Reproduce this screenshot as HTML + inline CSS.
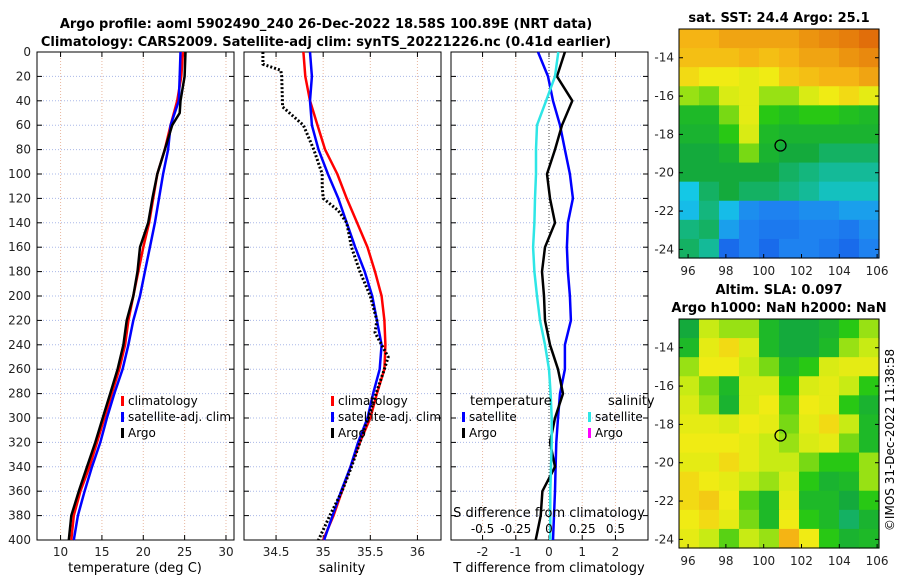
<!DOCTYPE html>
<html><head><meta charset="utf-8">
<style>
body{margin:0;background:#fff;}
svg{display:block;font-family:"DejaVu Sans","Liberation Sans",sans-serif;}
</style></head>
<body>
<svg id="fig" width="900" height="580" viewBox="0 0 900 580" xmlns="http://www.w3.org/2000/svg">
<rect width="900" height="580" fill="#fff"/>
<text x="326" y="28" text-anchor="middle" font-size="13" font-weight="bold">Argo profile: aoml 5902490_240 26-Dec-2022 18.58S 100.89E (NRT data)</text>
<text x="326" y="46" text-anchor="middle" font-size="13" font-weight="bold">Climatology: CARS2009. Satellite-adj clim: synTS_20221226.nc (0.41d earlier)</text>
<g id="g"></g>
<text x="779" y="22" text-anchor="middle" font-size="13" font-weight="bold">sat. SST: 24.4 Argo: 25.1</text>
<text x="779" y="294" text-anchor="middle" font-size="13" font-weight="bold">Altim. SLA: 0.097</text>
<text x="779" y="312" text-anchor="middle" font-size="13" font-weight="bold">Argo h1000: NaN h2000: NaN</text>
<text transform="translate(894,440) rotate(-90)" text-anchor="middle" font-size="12">©IMOS 31-Dec-2022 11:38:58</text>
</svg>
<script>
const depths=[0,20,40,60,80,100,120,140,160,180,200,220,240,260,280,300,320,340,360,380,400];
const depthTicks=[0,20,40,60,80,100,120,140,160,180,200,220,240,260,280,300,320,340,360,380,400];
const tempClim=[24.8,24.6,24.1,23.3,22.6,21.7,21.2,20.7,20.0,19.4,18.8,18.2,17.8,17.1,16.2,15.3,14.4,13.5,12.4,11.6,11.3];
const tempSat=[24.5,24.4,24.3,23.3,23.0,22.4,21.9,21.4,20.8,20.2,19.6,18.8,18.2,17.5,16.5,15.6,14.8,13.8,12.9,12.1,11.6];
const argoTDepth=[0,20,40,50,60,80,100,120,140,160,180,200,220,240,260,280,300,320,340,360,380,400];
const tempArgo=[25.1,25.0,24.5,24.4,23.5,22.6,21.7,21.1,20.6,19.6,19.3,18.8,18.0,17.6,16.9,16.0,15.1,14.2,13.2,12.2,11.3,11.0];
const salClim=[34.79,34.81,34.86,34.94,35.02,35.15,35.25,35.36,35.47,35.55,35.62,35.65,35.66,35.65,35.57,35.5,35.39,35.29,35.2,35.11,35.0];
const salSat=[34.86,34.88,34.86,34.88,34.95,35.05,35.16,35.25,35.34,35.44,35.52,35.57,35.62,35.6,35.53,35.47,35.37,35.29,35.19,35.1,35.01];
const argoSDepth=[0,10,15,20,45,60,80,100,110,120,130,140,160,180,200,220,230,250,260,280,300,320,340,360,380,400];
const salArgo=[34.36,34.36,34.55,34.56,34.57,34.79,34.9,34.99,34.99,35.0,35.16,35.25,35.3,35.39,35.5,35.57,35.55,35.69,35.65,35.56,35.48,35.39,35.3,35.2,35.07,34.95];
const tDiffSat=[-0.33,-0.03,0.12,0.33,0.48,0.63,0.72,0.57,0.54,0.57,0.63,0.66,0.48,0.48,0.33,0.27,0.22,0.2,0.18,0.15,0.12];
const tDiffArgo=[0.48,0.24,0.7,0.39,0.18,-0.06,0.03,0.18,-0.12,-0.21,-0.15,-0.12,0.03,0.27,0.42,0.18,0.03,0.18,-0.2,-0.25,-0.4];
const sDiffSat=[0.07,0.045,-0.022,-0.09,-0.098,-0.098,-0.105,-0.11,-0.12,-0.11,-0.09,-0.068,-0.03,0,0.012,0.02,0.02,0.015,0.01,0.01,0.01];
const tTicks=[10,15,20,25,30];
const sTicks=[34.5,35,35.5,36];
const dTicks=[-2,-1,0,1,2];
const sdTicks=[-0.5,-0.25,0,0.25,0.5];
const sstGrid=[
[.82,.82,.85,.85,.85,.85,.88,.9,.92,.95],
[.8,.8,.8,.82,.8,.82,.85,.85,.88,.9],
[.75,.72,.72,.7,.72,.78,.8,.82,.82,.85],
[.62,.6,.68,.7,.62,.62,.68,.72,.75,.7],
[.5,.5,.6,.7,.55,.52,.55,.55,.52,.5],
[.48,.48,.55,.68,.5,.48,.48,.48,.48,.48],
[.45,.45,.48,.6,.48,.45,.45,.42,.42,.42],
[.45,.45,.45,.45,.45,.42,.4,.38,.38,.38],
[.32,.42,.45,.42,.42,.4,.38,.35,.35,.35],
[.3,.4,.3,.22,.2,.2,.22,.22,.25,.25],
[.4,.42,.25,.2,.18,.18,.2,.2,.18,.22],
[.42,.38,.15,.2,.15,.2,.2,.18,.15,.2]];
const slaGrid=[
[.45,.65,.62,.62,.5,.45,.45,.48,.55,.62],
[.5,.7,.75,.68,.5,.45,.45,.5,.62,.65],
[.62,.72,.72,.65,.6,.5,.55,.68,.7,.7],
[.65,.6,.5,.68,.68,.55,.68,.7,.65,.55],
[.68,.62,.48,.68,.72,.58,.72,.7,.55,.48],
[.7,.7,.68,.72,.7,.6,.7,.75,.65,.5],
[.72,.72,.72,.7,.65,.62,.68,.7,.6,.5],
[.7,.7,.75,.7,.65,.65,.6,.55,.55,.62],
[.75,.72,.7,.65,.62,.68,.55,.48,.5,.62],
[.75,.78,.72,.58,.5,.7,.5,.5,.45,.55],
[.72,.75,.7,.6,.5,.72,.55,.5,.42,.48],
[.7,.65,.58,.65,.62,.82,.72,.55,.48,.5]];
const lonTicks=[96,98,100,102,104,106];
const latTicks=[-14,-16,-18,-20,-22,-24];
const argoPos=[100.89,-18.58];

const NS="http://www.w3.org/2000/svg";
const G=document.getElementById('g');
function el(tag,attrs,parent,txt){const e=document.createElementNS(NS,tag);for(const k in attrs)e.setAttribute(k,attrs[k]);if(txt!==undefined)e.textContent=txt;(parent||G).appendChild(e);return e;}
const top0=52,bot=540;
const yD=d=>top0+(bot-top0)*d/400;

function panel(name,x0,x1,xmin,xmax,ticks,yLabels,grid){
  const g=el('g',{});
  
  
  const xs=v=>x0+(x1-x0)*(v-xmin)/(xmax-xmin);
  if(grid){
    ticks.forEach(t=>{const l=el('line',{x1:xs(t),x2:xs(t),y1:top0,y2:bot,stroke:'#e8b8a0','stroke-dasharray':'1,2','stroke-width':1},g);});
    depthTicks.forEach(d=>{const l=el('line',{x1:x0,x2:x1,y1:yD(d),y2:yD(d),stroke:'#aab8e8','stroke-dasharray':'1,2','stroke-width':1},g);});
  }
  depthTicks.forEach(d=>{
    el('line',{x1:x0,x2:x0+5,y1:yD(d),y2:yD(d),stroke:'#000'},g);
    el('line',{x1:x1-5,x2:x1,y1:yD(d),y2:yD(d),stroke:'#000'},g);
    if(yLabels){const t=el('text',{x:x0-6,y:yD(d)+4,'text-anchor':'end','font-size':12,fill:'#222'},g,String(d));}
  });
  ticks.forEach(t=>{
    el('line',{x1:xs(t),x2:xs(t),y1:bot,y2:bot-5,stroke:'#000'},g);
    el('line',{x1:xs(t),x2:xs(t),y1:top0,y2:top0+5,stroke:'#000'},g);
    const tx=el('text',{x:xs(t),y:bot+16,'text-anchor':'middle','font-size':12,fill:'#222'},g,String(t));
    
  });
  el('rect',{x:x0,y:top0,width:x1-x0,height:bot-top0,fill:'none',stroke:'#000','stroke-width':1},g);
  return {g,xs};
}
function line(p,vals,ds,color,name,dash,w){
  const pts=vals.map((v,i)=>p.xs(v).toFixed(1)+','+yD(ds[i]).toFixed(1)).join(' ');
  const a={points:pts,fill:'none',stroke:color,'stroke-width':w||2.5,'stroke-linejoin':'round'};
  if(dash)a['stroke-dasharray']=dash;
  const l=el('polyline',a,p.g);
  
  
}
function legend(g,x,y,color,text,name){
  el('rect',{x:x,y:y-9,width:3,height:10,fill:color},g);
  const t=el('text',{x:x+7,y:y,'font-size':12,fill:'#000'},g,text);
  
  
}
// Panel 1
const p1=panel('temperature-panel',37,234,7.15,30.97,tTicks,true,true);
line(p1,tempClim,depths,'#f00','temp-climatology-line');
line(p1,tempSat,depths,'#00f','temp-satellite-line');
line(p1,tempArgo,argoTDepth,'#000','temp-argo-line');
legend(p1.g,121,405,'#f00','climatology','legend-climatology');
legend(p1.g,121,421,'#00f','satellite-adj. clim','legend-satellite');
legend(p1.g,121,437,'#000','Argo','legend-argo');
let t=el('text',{x:135,y:572,'text-anchor':'middle','font-size':13},p1.g,'temperature (deg C)');

// Panel 2
const p2=panel('salinity-panel',244,441,34.16,36.25,sTicks,false,true);
line(p2,salClim,depths,'#f00','sal-climatology-line');
line(p2,salSat,depths,'#00f','sal-satellite-line');
line(p2,salArgo,argoSDepth,'#000','sal-argo-line','2,2',3);
legend(p2.g,331,405,'#f00','climatology','legend-climatology');
legend(p2.g,331,421,'#00f','satellite-adj. clim','legend-satellite');
legend(p2.g,331,437,'#000','Argo','legend-argo');
t=el('text',{x:342,y:572,'text-anchor':'middle','font-size':13},p2.g,'salinity');

// Panel 3
const p3=panel('difference-panel',451,648,-2.95,2.98,dTicks,false,true);
el('line',{x1:p3.xs(0),x2:p3.xs(0),y1:top0,y2:bot,stroke:'#444','stroke-dasharray':'1,2'},p3.g);
line(p3,tDiffSat,depths,'#00f','tdiff-satellite-line');
line(p3,tDiffArgo,depths,'#000','tdiff-argo-line');
line(p3,sDiffSat.map(v=>v*4),depths,'#2ee6e6','sdiff-satellite-line');
t=el('text',{x:470,y:405,'font-size':13},p3.g,'temperature');
t=el('text',{x:608,y:405,'font-size':13},p3.g,'salinity');
legend(p3.g,462,421,'#00f','satellite','legend-t-satellite');
legend(p3.g,462,437,'#000','Argo','legend-t-argo');
legend(p3.g,588,421,'#2ee6e6','satellite','legend-s-satellite');
legend(p3.g,588,437,'#f0f','Argo','legend-s-argo');
t=el('text',{x:549,y:517,'text-anchor':'middle','font-size':13},p3.g,'S difference from climatology');
sdTicks.forEach(v=>{const s=el('text',{x:p3.xs(v*4),y:533,'text-anchor':'middle','font-size':12},p3.g,String(v));});
t=el('text',{x:549,y:572,'text-anchor':'middle','font-size':13},p3.g,'T difference from climatology');

// Maps
function cmap(v){
  const stops=[[0,[10,40,220]],[0.2,[30,130,240]],[0.32,[20,200,230]],[0.45,[20,170,60]],[0.55,[40,200,20]],[0.65,[200,235,20]],[0.72,[240,235,20]],[0.82,[245,180,20]],[0.95,[225,110,10]],[1,[200,80,10]]];
  for(let i=1;i<stops.length;i++){if(v<=stops[i][0]){const a=stops[i-1],b=stops[i],f=(v-a[0])/(b[0]-a[0]);return 'rgb('+a[1].map((c,k)=>Math.round(c+(b[1][k]-c)*f)).join(',')+')';}}
  return 'rgb(200,80,10)';
}
function map(name,x0,y0,x1,y1,grid){
  const g=el('g',{});
  
  
  const lon0=95.52,lon1=106.1;
  const lat0=-12.5,lat1=-24.45;
  const xs=v=>x0+(x1-x0)*(v-lon0)/(lon1-lon0);
  const ys=v=>y0+(y1-y0)*(v-lat0)/(lat1-lat0);
  const nr=grid.length,nc=grid[0].length;
  const cw=(x1-x0)/nc,ch=(y1-y0)/nr;
  grid.forEach((row,r)=>row.forEach((v,c)=>{
    const cell=el('rect',{x:x0+c*cw,y:y0+r*ch,width:cw+0.6,height:ch+0.6,fill:cmap(v)},g);
    
    
  }));
  el('rect',{x:x0,y:y0,width:x1-x0,height:y1-y0,fill:'none',stroke:'#000'},g);
  lonTicks.forEach(v=>{el('line',{x1:xs(v),x2:xs(v),y1:y1,y2:y1-4,stroke:'#000'},g);
    const tx=el('text',{x:xs(v),y:y1+17,'text-anchor':'middle','font-size':12,fill:'#222'},g,String(v));});
  latTicks.forEach(v=>{el('line',{x1:x0,x2:x0+4,y1:ys(v),y2:ys(v),stroke:'#000'},g);el('line',{x1:x1,x2:x1-4,y1:ys(v),y2:ys(v),stroke:'#000'},g);
    const tx=el('text',{x:x0-5,y:ys(v)+4,'text-anchor':'end','font-size':12,fill:'#222'},g,String(v));});
  const m=el('circle',{cx:xs(argoPos[0]),cy:ys(argoPos[1]),r:5.5,fill:'none',stroke:'#000','stroke-width':1.3},g);
  
  
}
map('sst-map',679,29,879,258,sstGrid);
map('sla-map',679,319,879,548,slaGrid);
</script>
</body></html>
